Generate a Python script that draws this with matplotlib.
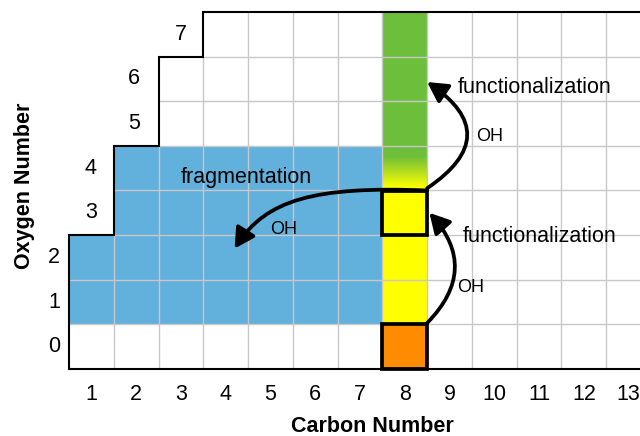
import numpy as np
import matplotlib
matplotlib.use('Agg')
import matplotlib.pyplot as plt
from matplotlib.patches import Rectangle, FancyArrowPatch
from matplotlib.path import Path
import matplotlib.colors as mcolors

plt.rcParams['font.family'] = ['Liberation Sans', 'DejaVu Sans']

# ---- data ----
carbon = list(range(1, 14))
max_oxygen = [2, 4, 6, 7, 7, 7, 7, 7, 7, 7, 7, 7, 7]
oxygen_numbers = [0, 1, 2, 3, 4, 5, 6, 7]
frag_carbons = [1, 2, 3, 4, 5, 6, 7]
frag_oxygen_min = [1, 1, 1, 1, 1, 1, 1]
frag_oxygen_max = [2, 4, 4, 4, 4, 4, 4]
precursor_c = 8
orange_o = [0]
yellow_o = [1, 2, 3]
gradient_o = [4]
green_o = [5, 6, 7]
boxed_o = [0, 3]

BLUE = '#62b0dc'
GREEN = '#6dbe3a'
YELLOW = '#ffff00'
ORANGE = '#ff8c00'
GRID = '#c8c8c8'

fig = plt.figure(figsize=(6.4, 4.36), dpi=100)
ax = fig.add_axes([69 / 640, 67 / 436, 582 / 640, 357 / 436])
ax.set_xlim(0.5, 13.5)
ax.set_ylim(-0.5, 7.5)
for s in ax.spines.values():
    s.set_visible(False)

# blue fragmentation region
hts = [mx - mn + 1 for mn, mx in zip(frag_oxygen_min, frag_oxygen_max)]
bots = [mn - 0.5 for mn in frag_oxygen_min]
ax.bar(frag_carbons, hts, bottom=bots, width=1.0, color=BLUE, edgecolor='none', zorder=1)

# column 8
ax.bar([precursor_c] * len(orange_o), 1, bottom=[o - 0.5 for o in orange_o], width=1.0,
       color=ORANGE, edgecolor='none', zorder=1)
ax.bar([precursor_c] * len(yellow_o), 1, bottom=[o - 0.5 for o in yellow_o], width=1.0,
       color=YELLOW, edgecolor='none', zorder=1)
ax.bar([precursor_c] * len(green_o), 1, bottom=[o - 0.5 for o in green_o], width=1.0,
       color=GREEN, edgecolor='none', zorder=1)
g = np.array(mcolors.to_rgb(GREEN))
yv = np.array(mcolors.to_rgb(YELLOW))
t = np.linspace(1, 0, 100)[:, None]
mix = np.clip((t - 0.05) / 0.7, 0, 1)
img = (mix * g + (1 - mix) * yv)[:, None, :]
for o in gradient_o:
    ax.imshow(img, extent=[precursor_c - 0.5, precursor_c + 0.5, o - 0.5, o + 0.5],
              aspect='auto', interpolation='bilinear', zorder=1)

# grid lines inside staircase
row_start = []
for o in oxygen_numbers:
    row_start.append(min(c for c, m in zip(carbon, max_oxygen) if m >= o) - 0.5)
for i, c in enumerate(carbon[:-1]):
    ax.vlines(c + 0.5, -0.5, max_oxygen[i] + 0.5, color=GRID, lw=1.0, zorder=2)
for o in oxygen_numbers[:-1]:
    ax.hlines(o + 0.5, row_start[o + 1], 13.5, color=GRID, lw=1.0, zorder=2)

# staircase outline
vx = [0.5]
vy = [-0.5]
for i, c in enumerate(carbon):
    vx += [c - 0.5, c + 0.5]
    vy += [max_oxygen[i] + 0.5, max_oxygen[i] + 0.5]
vx += [13.5, 0.5]
vy += [-0.5, -0.5]
ax.plot(vx, vy, color='black', lw=1.5, zorder=3, clip_on=False, solid_joinstyle='miter')

# boxes
for o in boxed_o:
    ax.add_patch(Rectangle((precursor_c - 0.5, o - 0.5), 1, 1, fill=False, ec='black',
                           lw=2.7, zorder=5, clip_on=False))

# arrows
astyle = dict(arrowstyle='-|>,head_length=0.6,head_width=0.33', mutation_scale=20,
              lw=2.7, color='black', zorder=6, shrinkA=0, shrinkB=0)
ax.add_patch(FancyArrowPatch((8.5, 0.53), (8.55, 3.0), connectionstyle='arc3,rad=0.47', **astyle))
ax.add_patch(FancyArrowPatch((8.5, 3.55), (8.5, 5.93), connectionstyle='arc3,rad=0.74', **astyle))
frag_path = Path([(8.5, 3.5), (6.0, 3.6), (4.9, 3.3), (4.2, 2.2)],
                 [Path.MOVETO, Path.CURVE4, Path.CURVE4, Path.CURVE4])
ax.add_patch(FancyArrowPatch(path=frag_path, **astyle))

# texts
fs = 15.5
ax.text(9.18, 5.8, 'functionalization', fontsize=fs, ha='left', va='center', zorder=7)
ax.text(9.6, 4.7, 'OH', fontsize=13, ha='left', va='center', zorder=7)
ax.text(4.45, 3.8, 'fragmentation', fontsize=fs, ha='center', va='center', zorder=7)
ax.text(4.99, 2.62, 'OH', fontsize=13, ha='left', va='center', zorder=7)
ax.text(9.29, 2.46, 'functionalization', fontsize=fs, ha='left', va='center', zorder=7)
ax.text(9.16, 1.32, 'OH', fontsize=13, ha='left', va='center', zorder=7)

# oxygen labels next to staircase
ylab_x = [0.165, 0.165, 0.165, 0.99, 0.99, 1.95, 1.95, 3.0]
for o, x in zip(oxygen_numbers, ylab_x):
    ax.text(x, o, str(o), fontsize=fs, ha='center', va='center', clip_on=False)

ax.set_yticks([])
ax.set_xticks(carbon)
ax.set_xticklabels([str(c) for c in carbon], fontsize=fs)
ax.tick_params(axis='x', length=0, pad=11)

fig.text(372 / 640, 1 - 426 / 436, 'Carbon Number', fontsize=fs, fontweight='bold',
         ha='center', va='center')
fig.text(25 / 640, 1 - 186 / 436, 'Oxygen Number', fontsize=fs, fontweight='bold',
         ha='center', va='center', rotation=90)

fig.savefig('out.png', dpi=100)
